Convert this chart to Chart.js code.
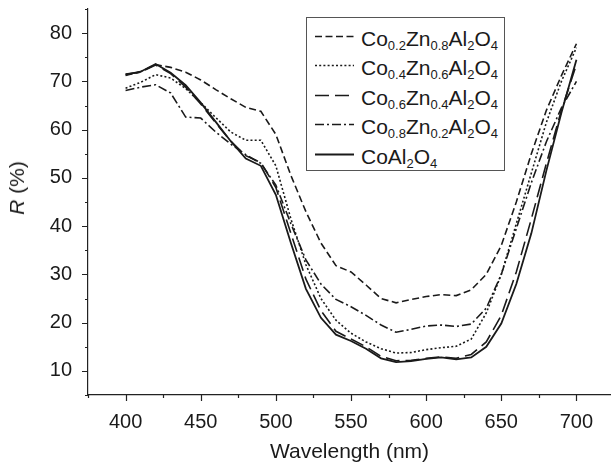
<!DOCTYPE html>
<html>
<head>
<meta charset="utf-8">
<script src="https://cdn.jsdelivr.net/npm/chart.js@4.4.1/dist/chart.umd.min.js"></script>
<style>
  html, body { margin: 0; padding: 0; background: #fff; }
  #wrap { position: relative; width: 611px; height: 465px; font-family: "Liberation Sans", Arial, sans-serif; color: #1a1a1a; }
  #chart { position: absolute; left: 0; top: 0; }
  #ylabel { position: absolute; left: 17px; top: 188px; transform: translate(-50%, -50%) rotate(-90deg); font-size: 21px; white-space: nowrap; }
  #legend { position: absolute; left: 306px; top: 17px; width: 197px; height: 152px; border: 1.5px solid #555; background: #fff; }
  .row { position: absolute; left: 0; width: 100%; height: 29.5px; }
  .row svg { position: absolute; left: 7px; top: 0; }
  .row span { position: absolute; left: 54px; top: 0; line-height: 29.5px; font-size: 21px; white-space: nowrap; }
  sub { font-size: 13px; vertical-align: -4px; line-height: 0; }
</style>
</head>
<body>
<div id="wrap">
  <canvas id="chart" width="611" height="465"></canvas>
  <div id="ylabel"><i>R</i> (%)</div>
  <div id="legend"></div>
</div>
<script>
// wavelength (nm)
const wavelength = [400, 410, 420, 430, 440, 450, 460, 470, 480, 490, 500, 510, 520, 530, 540, 550,
  560, 570, 580, 590, 600, 610, 620, 630, 640, 650, 660, 670, 680, 690, 700];

// reflectance R (%) for each sample
const co02 = [71.2, 72.0, 73.5, 72.9, 71.9, 70.3, 68.3, 66.4, 64.6, 63.8, 59.0, 50.5, 43.0, 36.5, 31.8, 30.5,
  27.8, 25.0, 24.1, 24.8, 25.4, 25.8, 25.6, 26.8, 30.0, 36.0, 45.0, 55.0, 64.0, 71.2, 77.8];
const co04 = [68.6, 69.8, 71.4, 70.7, 68.5, 65.6, 62.5, 59.5, 57.8, 57.8, 52.5, 41.5, 32.0, 25.0, 20.5, 17.8,
  16.0, 14.6, 13.7, 13.8, 14.4, 14.8, 15.1, 16.6, 22.0, 30.0, 40.5, 51.0, 61.5, 70.0, 77.0];
const co06 = [71.5, 71.9, 73.4, 71.6, 68.8, 65.3, 61.4, 57.6, 54.6, 53.2, 48.0, 38.5, 29.0, 22.5, 18.2, 16.6,
  15.0, 13.0, 12.1, 12.2, 12.6, 12.9, 12.6, 13.4, 16.0, 21.5, 30.5, 41.5, 53.0, 64.0, 73.5];
const co08 = [68.1, 68.8, 69.3, 67.6, 62.6, 62.4, 59.5, 57.0, 54.8, 53.0, 48.5, 40.5, 33.0, 28.0, 24.8, 23.3,
  21.5, 19.5, 18.0, 18.6, 19.3, 19.5, 19.2, 19.7, 23.0, 30.0, 39.5, 49.0, 57.5, 64.5, 70.0];
const coAl = [71.4, 72.0, 73.6, 71.8, 69.2, 65.6, 61.6, 57.6, 54.0, 52.5, 46.5, 36.5, 27.0, 21.0, 17.5, 16.2,
  14.6, 12.6, 11.8, 12.0, 12.5, 12.8, 12.4, 12.8, 15.0, 19.8, 28.0, 38.5, 51.5, 63.5, 74.5];

const xTicks = [375, 400, 425, 450, 475, 500, 525, 550, 575, 600, 625, 650, 675, 700];
const yTicks = [5, 10, 15, 20, 25, 30, 35, 40, 45, 50, 55, 60, 65, 70, 75, 80, 85];

const labels = [
  'Co<sub>0.2</sub>Zn<sub>0.8</sub>Al<sub>2</sub>O<sub>4</sub>',
  'Co<sub>0.4</sub>Zn<sub>0.6</sub>Al<sub>2</sub>O<sub>4</sub>',
  'Co<sub>0.6</sub>Zn<sub>0.4</sub>Al<sub>2</sub>O<sub>4</sub>',
  'Co<sub>0.8</sub>Zn<sub>0.2</sub>Al<sub>2</sub>O<sub>4</sub>',
  'CoAl<sub>2</sub>O<sub>4</sub>'
];
const dashes = [[7, 3.5], [2, 2.2], [14, 6], [9, 3, 2, 3], []];
const series = [co02, co04, co06, co08, coAl];

const ink = '#1a1a1a';
const font = 'Liberation Sans, Arial, sans-serif';

const toPoints = (values) => values.map((v, i) => ({ x: wavelength[i], y: v }));

// short outward tick marks, long on labelled values
const tickMarks = {
  id: 'tickMarks',
  afterDraw(chart) {
    const ctx = chart.ctx;
    const xs = chart.scales.x;
    const ys = chart.scales.y;
    ctx.save();
    ctx.strokeStyle = '#222';
    ctx.lineWidth = 1.2;
    ctx.beginPath();
    xTicks.forEach((v) => {
      const px = Math.round(xs.getPixelForValue(v)) + 0.5;
      const len = v % 50 === 0 ? 6 : 3;
      ctx.moveTo(px, xs.top);
      ctx.lineTo(px, xs.top + len);
    });
    yTicks.forEach((v) => {
      const py = Math.round(ys.getPixelForValue(v)) + 0.5;
      const len = v % 10 === 0 ? 6 : 3;
      ctx.moveTo(ys.right, py);
      ctx.lineTo(ys.right - len, py);
    });
    ctx.stroke();
    ctx.restore();
  }
};

new Chart(document.getElementById('chart').getContext('2d'), {
  type: 'line',
  data: {
    datasets: series.map((s, i) => ({
      label: labels[i],
      data: toPoints(s),
      borderColor: ink,
      borderWidth: i === 4 ? 1.8 : 1.6,
      borderDash: dashes[i],
      pointRadius: 0,
      tension: 0,
      fill: false
    }))
  },
  options: {
    responsive: false,
    animation: false,
    devicePixelRatio: 1,
    layout: { padding: { top: 9, right: 0, left: 0, bottom: 0 } },
    plugins: { legend: { display: false }, tooltip: { enabled: false } },
    scales: {
      x: {
        type: 'linear',
        min: 375,
        max: 723,
        afterBuildTicks: (s) => { s.ticks = xTicks.map((v) => ({ value: v })); },
        afterFit: (s) => { s.height = 70; s.paddingLeft = 0; s.paddingRight = 0; },
        ticks: {
          callback: (v) => (v % 50 === 0 ? v : ''),
          font: { family: font, size: 20 },
          color: ink,
          padding: 15,
          maxRotation: 0,
          autoSkip: false
        },
        grid: { drawOnChartArea: false, drawTicks: false },
        border: { display: true, color: '#222', width: 1.2 },
        title: {
          display: true,
          text: 'Wavelength (nm)',
          font: { family: font, size: 21 },
          color: ink,
          padding: { top: 0, bottom: 0 }
        }
      },
      y: {
        type: 'linear',
        min: 5,
        max: 85,
        afterBuildTicks: (s) => { s.ticks = yTicks.map((v) => ({ value: v })); },
        afterFit: (s) => { s.width = 88; s.paddingTop = 0; s.paddingBottom = 0; },
        ticks: {
          callback: (v) => (v % 10 === 0 ? v : ''),
          font: { family: font, size: 20 },
          color: ink,
          padding: 16,
          autoSkip: false
        },
        grid: { drawOnChartArea: false, drawTicks: false },
        border: { display: true, color: '#222', width: 1.2 }
      }
    }
  },
  plugins: [tickMarks]
});

// legend with subscripts, built as html
const legend = document.getElementById('legend');
labels.forEach((html, i) => {
  const row = document.createElement('div');
  row.className = 'row';
  row.style.top = (5.5 + i * 29.5) + 'px';
  const dash = dashes[i].length ? dashes[i].join(' ') : 'none';
  row.innerHTML =
    '<svg width="42" height="30"><line x1="1" y1="12.5" x2="40" y2="12.5" stroke="' + ink +
    '" stroke-width="' + (i === 4 ? 1.8 : 1.6) + '" stroke-dasharray="' + dash + '"/></svg>' +
    '<span>' + html + '</span>';
  legend.appendChild(row);
});
</script>
</body>
</html>
